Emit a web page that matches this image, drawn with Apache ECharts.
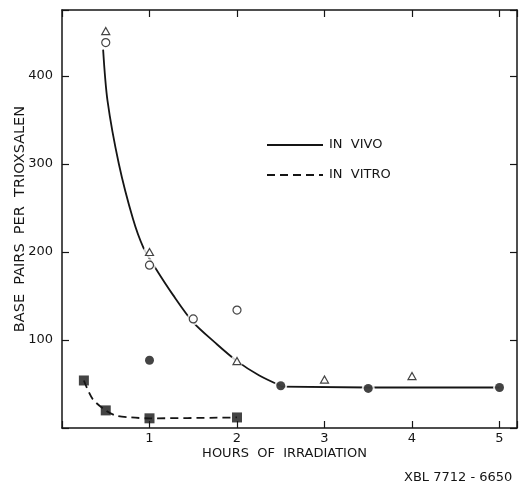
<!DOCTYPE html>
<html>
<head>
<meta charset="utf-8">
<script src="https://cdn.jsdelivr.net/npm/echarts@6/dist/echarts.min.js"></script>
<style>
  html, body { margin: 0; padding: 0; background: #fff; }
  #chart { width: 520px; height: 481px; }
</style>
</head>
<body>
<div id="chart"></div>
<script>
// points
var vivoTriX = [0.5, 1, 2, 3, 4];
var vivoTriY = [451, 200, 76, 55, 59];
var vivoOpenX = [0.5, 1, 1.5, 2];
var vivoOpenY = [438, 185, 124, 134];
var vivoFillX = [1, 2.5, 3.5, 5];
var vivoFillY = [77, 48, 45, 46];
var vitroX = [0.25, 0.5, 1, 2];
var vitroY = [54, 20, 11, 12];

// fitted curves as drawn in the figure
var vivoCurveX = [0.47, 0.52, 0.65, 0.81, 0.93, 1.06, 1.27, 1.5, 1.75, 2.0, 2.25, 2.5];
var vivoCurveY = [430, 372, 300, 238, 205, 183, 151, 120, 97, 76, 60, 48];
var vivoFlatX = [2.5, 3.5, 5];
var vivoFlatY = [47, 46, 46];
var vitroCurveX = [0.25, 0.35, 0.5, 0.62, 0.79, 1, 2];
var vitroCurveY = [54, 33, 20, 14, 12, 11, 12];

var xTicks = [1, 2, 3, 4, 5];
var yTicks = [100, 200, 300, 400];

var FONT = 'DejaVu Sans';
var INK = '#151515';

function pairs(xs, ys) {
    var out = [];
    for (var i = 0; i < xs.length; i++) {
        out.push([xs[i], ys[i]]);
    }
    return out;
}

// white discs under the in vivo markers so the curve breaks around them
var haloPts = pairs(vivoOpenX, vivoOpenY)
    .concat(pairs(vivoTriX, vivoTriY))
    .concat(pairs(vivoFillX, vivoFillY));

var myChart = echarts.init(document.getElementById('chart'), null, { renderer: 'canvas' });

var axisLine = { show: true, onZero: false, lineStyle: { color: INK, width: 1.5 } };
var axisTick = { show: true, inside: true, length: 7, lineStyle: { color: INK, width: 1.2 } };

var option = {
    backgroundColor: '#fff',
    animation: false,
    grid: { left: 62, right: 3, top: 10, bottom: 53, outerBoundsMode: 'none' },
    xAxis: [{
        type: 'value', min: 0, max: 5.2, interval: 1, position: 'bottom',
        axisLine: axisLine, axisTick: axisTick, splitLine: { show: false },
        axisLabel: {
            margin: 4, color: INK, fontFamily: FONT, fontSize: 13,
            formatter: function(v) { return xTicks.indexOf(v) >= 0 ? String(v) : ''; }
        },
        name: 'HOURS  OF  IRRADIATION', nameLocation: 'middle', nameGap: 19,
        nameMoveOverlap: false,
        nameTextStyle: { color: INK, fontFamily: FONT, fontSize: 13, padding: [0, 10, 0, 0] }
    }, {
        type: 'value', min: 0, max: 5.2, interval: 1, position: 'top',
        axisLine: axisLine, axisTick: axisTick, splitLine: { show: false },
        axisLabel: { show: false }
    }],
    yAxis: [{
        type: 'value', min: 0, max: 475, interval: 100, position: 'left',
        axisLine: axisLine, axisTick: axisTick, splitLine: { show: false },
        axisLabel: {
            margin: 9, color: INK, fontFamily: FONT, fontSize: 13,
            formatter: function(v) { return yTicks.indexOf(v) >= 0 ? String(v) : ''; }
        },
        name: 'BASE  PAIRS  PER  TRIOXSALEN', nameLocation: 'middle', nameGap: 34,
        nameRotate: 90, nameMoveOverlap: false,
        nameTextStyle: { color: INK, fontFamily: FONT, fontSize: 14.5 }
    }, {
        type: 'value', min: 0, max: 475, interval: 100, position: 'right',
        axisLine: axisLine, axisTick: axisTick, splitLine: { show: false },
        axisLabel: { show: false }
    }],
    series: [{
        name: 'IN VIVO', type: 'line', smooth: 0.3,
        symbol: 'none', z: 2,
        lineStyle: { color: INK, width: 1.8 },
        data: pairs(vivoCurveX, vivoCurveY)
    }, {
        name: 'IN VIVO flat', type: 'line', symbol: 'none', z: 2,
        lineStyle: { color: INK, width: 1.8 },
        data: pairs(vivoFlatX, vivoFlatY)
    }, {
        name: 'IN VITRO', type: 'line', smooth: 0.3,
        symbol: 'none', z: 2,
        lineStyle: { color: INK, width: 1.8, type: [8, 5] },
        data: pairs(vitroCurveX, vitroCurveY)
    }, {
        name: 'halo', type: 'scatter', symbol: 'circle', symbolSize: 13, z: 3,
        itemStyle: { color: '#fff' }, silent: true,
        data: haloPts
    }, {
        name: 'vivo triangles', type: 'scatter', symbol: 'triangle', symbolSize: [8, 7], z: 4,
        itemStyle: { color: '#fff', borderColor: INK, borderWidth: 1.2 },
        data: pairs(vivoTriX, vivoTriY)
    }, {
        name: 'vivo open', type: 'scatter', symbol: 'circle', symbolSize: 8, z: 4,
        itemStyle: { color: '#fff', borderColor: INK, borderWidth: 1.2 },
        data: pairs(vivoOpenX, vivoOpenY)
    }, {
        name: 'vivo filled', type: 'scatter', symbol: 'circle', symbolSize: 9, z: 4,
        itemStyle: { color: INK },
        data: pairs(vivoFillX, vivoFillY)
    }, {
        name: 'vitro', type: 'scatter', symbol: 'rect', symbolSize: 10, z: 4,
        itemStyle: { color: INK },
        data: pairs(vitroX, vitroY)
    }],
    graphic: [
        { type: 'line', shape: { x1: 267, y1: 145, x2: 323, y2: 145 },
          style: { stroke: INK, lineWidth: 2 } },
        { type: 'text', left: 329, top: 138,
          style: { text: 'IN  VIVO', fill: INK, font: '13px "' + FONT + '"' } },
        { type: 'line', shape: { x1: 267, y1: 175, x2: 323, y2: 175 },
          style: { stroke: INK, lineWidth: 2, lineDash: [8, 5] } },
        { type: 'text', left: 329, top: 168,
          style: { text: 'IN  VITRO', fill: INK, font: '13px "' + FONT + '"' } },
        { type: 'text', left: 404, top: 471,
          style: { text: 'XBL 7712 - 6650', fill: INK, font: '13px "' + FONT + '"' } }
    ]
};

myChart.setOption(option);
</script>
</body>
</html>
